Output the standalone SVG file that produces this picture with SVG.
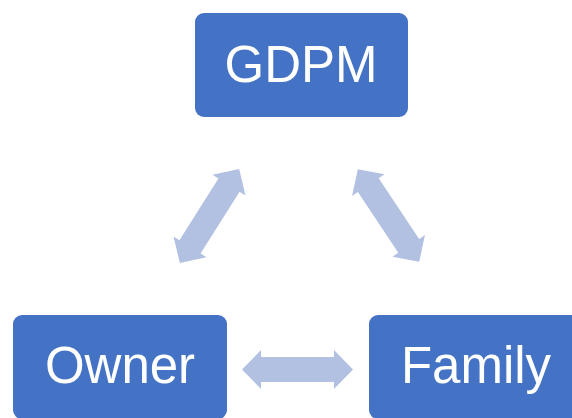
<svg xmlns="http://www.w3.org/2000/svg" width="572" height="418" viewBox="0 0 572 418">
  <defs>
    <style>
      .box { fill: #4472C4; }
      .label { fill: #FFFFFF; font-family: "Liberation Sans", Arial, sans-serif; font-size: 51px; text-anchor: middle; }
      .arrow { fill: #B2C0E2; }
    </style>
    <path id="dblArrow" d="M -55.5 0 L -36.5 -19.5 L -36.5 -12.5 L 36.5 -12.5 L 36.5 -19.5 L 55.5 0 L 36.5 19.5 L 36.5 12.5 L -36.5 12.5 L -36.5 19.5 Z"/>
  </defs>
  <rect width="572" height="418" fill="#FFFFFF"/>
  <g id="connectors">
    <use href="#dblArrow" class="arrow" transform="translate(209.5 216) rotate(-57.7)"/>
    <use href="#dblArrow" class="arrow" transform="translate(388.5 215.5) rotate(56.4)"/>
    <use href="#dblArrow" class="arrow" transform="translate(297.5 369.5)"/>
  </g>
  <g id="node-gdpm">
    <rect class="box" x="195" y="13" width="213" height="104" rx="9"/>
    <text class="label" x="301" y="82">GDPM</text>
  </g>
  <g id="node-owner">
    <rect class="box" x="13" y="315" width="214" height="104" rx="9"/>
    <text class="label" x="120" y="383">Owner</text>
  </g>
  <g id="node-family">
    <rect class="box" x="369" y="315" width="214" height="104" rx="9"/>
    <text class="label" x="476" y="383">Family</text>
  </g>
</svg>
